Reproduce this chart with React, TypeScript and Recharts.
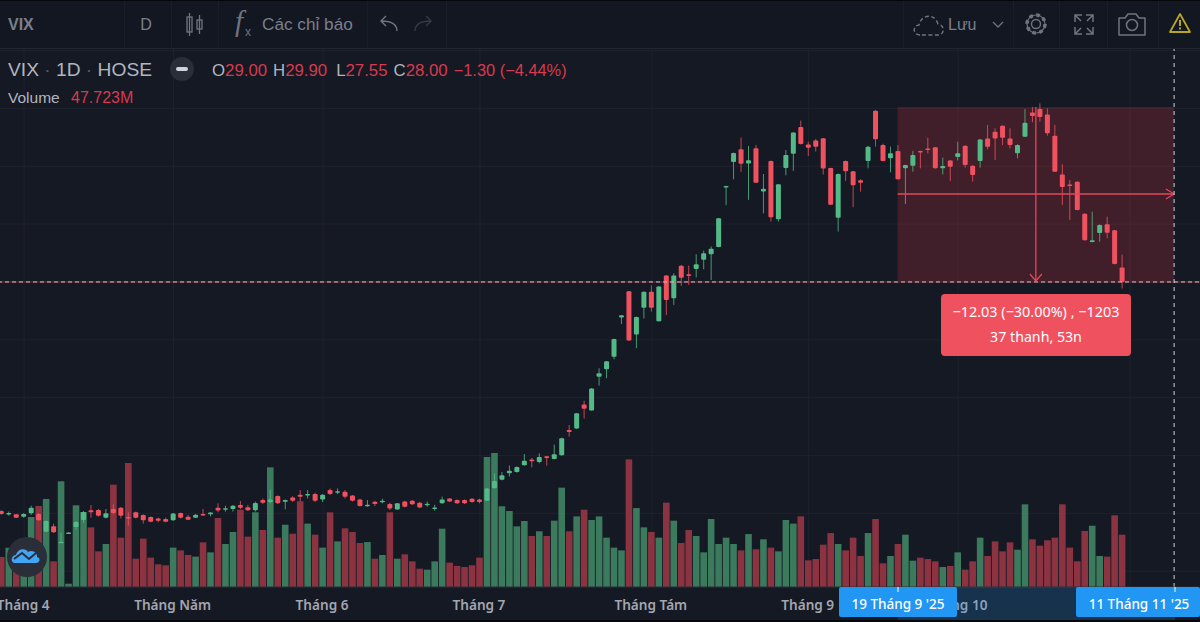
import { Bar, CartesianGrid, Cell, ComposedChart, ReferenceArea, ReferenceLine, XAxis, YAxis } from "recharts";

// daily candles (i = 0 is the leftmost bar)
const opens = [
  12.16, 11.93, 11.93, 11.77, 12.0, 11.95, 10.73, 11.1, 9.97, 10.62,
  11.05, 11.54, 12.21, 12.23, 11.7, 12.3, 12.39, 11.75, 12.07, 11.89,
  11.75, 11.65, 11.61, 11.52, 12.02, 11.77, 11.7, 11.95, 11.93, 12.39,
  12.3, 12.3, 12.58, 12.42, 12.21, 12.92, 12.78, 13.19, 12.8, 13.1,
  13.29, 13.26, 13.33, 12.96, 13.61, 13.45, 13.49, 13.24, 12.96, 12.5,
  12.8, 12.82, 12.64, 12.27, 12.82, 12.87, 12.73, 12.59, 12.34, 12.69,
  13.03, 12.92, 12.92, 13.01, 12.96, 12.87, 13.73, 14.33, 14.77, 14.86,
  15.32, 15.73, 15.55, 15.94, 15.76, 16.01, 17.76, 17.86, 19.52, 19.12,
  21.45, 21.96, 22.83, 25.54, 27.36, 24.36, 26.21, 27.32, 25.28, 28.44,
  26.87, 29.13, 28.53, 28.9, 29.53, 29.92, 30.42, 34.57, 36.3, 37.18,
  36.19, 37.25, 34.25, 36.37, 32.34, 35.89, 36.86, 38.72, 37.5, 37.78,
  37.94, 35.89, 32.45, 36.37, 35.66, 35.03, 36.37, 39.85, 37.47, 36.55,
  37.06, 35.86, 36.04, 37.06, 37.24, 37.31, 35.86, 36.41, 36.64, 37.43,
  36.04, 36.37, 37.93, 38.39, 38.81, 37.93, 36.9, 38.05, 39.73, 39.96,
  39.59, 38.12, 35.44, 34.75, 34.94, 32.72, 30.76, 31.39, 31.99, 31.57, 29.0,
];
const highs = [
  12.21, 12.12, 11.95, 12.02, 12.53, 12.02, 11.52, 11.29, 10.66, 10.7,
  11.47, 12.16, 12.58, 12.3, 12.3, 12.62, 12.44, 12.07, 12.12, 11.93,
  11.79, 11.7, 11.7, 12.02, 12.05, 11.89, 11.93, 12.3, 12.07, 12.69,
  12.53, 12.58, 12.85, 12.58, 12.81, 13.03, 13.65, 13.24, 12.96, 13.19,
  13.61, 13.61, 13.42, 13.33, 13.72, 13.72, 13.61, 13.26, 13.01, 12.92,
  12.87, 13.01, 12.73, 12.71, 12.87, 12.92, 12.78, 12.82, 12.59, 13.15,
  13.06, 12.96, 12.96, 13.06, 13.01, 13.77, 14.77, 14.86, 15.3, 15.25,
  16.1, 15.83, 16.15, 15.97, 16.75, 17.23, 18.11, 18.94, 19.79, 20.67,
  22.03, 22.53, 24.08, 25.7, 27.38, 25.61, 27.34, 27.77, 27.73, 28.47,
  28.6, 29.18, 29.13, 29.92, 30.17, 30.45, 32.43, 34.66, 36.95, 37.99,
  37.41, 37.48, 35.47, 36.4, 34.78, 37.13, 38.35, 39.16, 37.71, 37.89,
  37.96, 35.91, 35.5, 36.4, 35.68, 35.1, 37.41, 39.88, 37.56, 37.36,
  37.47, 36.11, 37.06, 37.08, 37.98, 37.33, 36.6, 36.44, 37.7, 37.45,
  36.07, 37.89, 38.86, 38.63, 38.83, 38.63, 37.52, 39.96, 40.1, 40.35,
  40.01, 38.86, 36.14, 35.05, 34.98, 32.75, 32.86, 31.99, 32.52, 31.6, 29.9,
];
const lows = [
  11.91, 11.84, 11.68, 11.7, 11.89, 11.47, 10.69, 10.64, 9.95, 10.6,
  10.85, 11.35, 11.7, 11.77, 11.65, 11.93, 11.65, 11.15, 11.65, 11.29,
  11.38, 11.38, 11.38, 11.47, 11.65, 11.54, 11.68, 11.84, 11.79, 12.07,
  12.12, 12.12, 12.3, 12.16, 12.12, 12.64, 12.69, 12.64, 12.27, 12.78,
  12.8, 13.03, 12.78, 12.78, 13.26, 13.33, 13.03, 12.82, 12.46, 12.46,
  12.5, 12.69, 12.23, 12.25, 12.41, 12.57, 12.36, 12.46, 12.18, 12.66,
  12.78, 12.64, 12.64, 12.73, 12.69, 12.85, 13.71, 14.28, 14.54, 14.81,
  15.3, 15.18, 15.46, 15.3, 15.73, 15.99, 17.3, 17.83, 18.55, 19.1,
  20.83, 21.34, 22.65, 25.1, 23.92, 23.42, 25.47, 25.95, 25.26, 25.72,
  26.41, 27.73, 27.8, 28.32, 28.88, 28.14, 30.4, 33.31, 35.1, 35.61,
  33.68, 34.85, 32.75, 32.18, 32.18, 35.38, 35.68, 37.5, 36.72, 37.02,
  35.43, 33.33, 31.49, 34.99, 33.17, 34.25, 35.86, 37.36, 36.34, 35.58,
  35.08, 33.39, 35.63, 35.86, 36.9, 35.84, 35.44, 34.98, 36.41, 35.91,
  34.94, 35.91, 37.17, 36.44, 37.47, 37.24, 36.55, 38.03, 39.04, 39.09,
  38.12, 35.61, 33.32, 32.29, 32.95, 30.86, 30.74, 30.79, 31.02, 29.22, 27.55,
];
const closes = [
  11.95, 12.02, 11.7, 11.95, 12.39, 11.52, 11.47, 10.69, 10.04, 10.68,
  11.4, 12.09, 12.07, 11.84, 12.0, 12.02, 11.84, 11.65, 11.7, 11.52,
  11.42, 11.49, 11.42, 11.98, 11.7, 11.56, 11.91, 11.89, 12.05, 12.19,
  12.35, 12.53, 12.39, 12.21, 12.72, 12.73, 12.96, 12.69, 12.92, 12.87,
  13.15, 13.33, 12.87, 13.29, 13.33, 13.52, 13.15, 12.87, 12.5, 12.59,
  12.64, 12.87, 12.34, 12.69, 12.46, 12.62, 12.41, 12.66, 12.41, 12.96,
  12.82, 12.69, 12.69, 12.78, 12.78, 13.72, 14.24, 14.63, 14.95, 15.2,
  15.64, 15.6, 15.9, 15.83, 16.08, 17.19, 17.63, 18.92, 19.24, 20.64,
  21.68, 22.51, 24.06, 25.7, 23.95, 25.58, 27.32, 26.21, 27.68, 26.76,
  28.44, 28.3, 28.42, 29.23, 29.99, 30.29, 32.41, 34.64, 36.92, 36.17,
  36.42, 34.87, 34.44, 32.48, 34.76, 36.79, 38.33, 37.55, 37.29, 37.36,
  35.84, 33.35, 35.47, 35.66, 34.69, 34.87, 37.36, 37.87, 36.37, 36.9,
  35.1, 36.09, 36.78, 36.97, 37.13, 35.86, 36.02, 35.97, 36.9, 36.09,
  35.4, 37.86, 37.36, 37.93, 37.98, 37.47, 37.47, 39.02, 39.48, 39.41,
  38.28, 35.63, 34.57, 34.71, 32.98, 30.88, 30.88, 31.94, 31.41, 29.24, 28.0,
];
// volume in millions
const volumes = [
  27.4, 35.9, 29.0, 34.0, 63.8, 73.9, 80.3, 23.4, 96.4, 3.0,
  74.5, 68.4, 54.4, 32.5, 39.2, 93.3, 45.0, 113.1, 25.8, 44.1,
  26.8, 20.7, 19.8, 35.9, 33.4, 29.2, 27.7, 40.7, 31.6, 62.9,
  39.2, 50.2, 70.5, 45.9, 68.1, 52.0, 109.1, 45.0, 56.8, 48.6,
  78.1, 57.8, 47.7, 35.9, 68.1, 41.6, 53.5, 50.2, 40.1, 41.0,
  25.8, 29.2, 68.1, 25.8, 29.8, 23.4, 16.7, 15.8, 23.4, 53.2,
  22.2, 19.2, 18.2, 19.8, 26.8, 118.6, 122.2, 73.6, 69.3, 55.3,
  60.2, 46.5, 50.8, 46.5, 60.5, 90.6, 50.8, 64.4, 70.5, 61.1,
  64.4, 45.0, 35.9, 33.4, 116.4, 72.0, 54.4, 50.2, 45.0, 76.9,
  60.5, 40.1, 52.0, 46.5, 31.6, 62.0, 39.2, 45.0, 39.2, 33.4,
  48.3, 34.4, 43.5, 35.9, 32.5, 61.1, 57.8, 64.4, 24.3, 25.5,
  38.6, 49.2, 39.2, 33.4, 45.0, 28.3, 49.2, 62.0, 21.6, 28.3,
  39.2, 47.7, 24.0, 26.8, 25.5, 23.4, 18.2, 19.2, 31.6, 15.8,
  23.4, 45.0, 28.3, 41.6, 32.5, 40.7, 34.0, 75.4, 43.5, 37.7,
  42.6, 45.0, 75.4, 35.9, 23.4, 51.1, 55.9, 28.3, 27.7, 65.4, 47.7,
];

// the November tick keeps its grid line, its label sits behind the blue date label
const monthTicks = [3, 23, 43, 64, 87, 108, 128, 151];
const monthLabels = ["Tháng 4", "Tháng Năm", "Tháng 6", "Tháng 7", "Tháng Tám", "Tháng 9", "Tháng 10", ""];
const priceTicks = [8, 12, 16, 20, 24, 28, 32, 36, 40, 44];

// date range tool: 37 bars starting at 19 Sep
const measureStart = 120;
const measureEnd = 157;
const measureFrom = 40.1;
const measureTo = 28.07;
const crosshairPrice = 28.0;

const EMPTY_BARS = 10;
const VOL_BAR = 6.6;
const UP = "#53b987";
const DOWN = "#f0515f";
const VOL_UP = "#3b7a5d";
const VOL_DOWN = "#8c3342";
const BG = "#151924";
const GRID = "#1e222d";
const MUTED = "#7b7f8b";
const TEXT = "#b2b5be";
const RED_TEXT = "#d8394d";
const SANS = "'Liberation Sans', Arial, sans-serif";
const AXIS_FONT = "'Noto Sans', sans-serif";

const chartData = Array.from({ length: opens.length + EMPTY_BARS }, (_, idx) =>
  idx < opens.length
    ? { idx, open: opens[idx], close: closes[idx], high: highs[idx], low: lows[idx], range: [lows[idx], highs[idx]], volume: volumes[idx] }
    : { idx },
);

function Candle(props: any) {
  const { x, y, width, height, payload } = props;
  if (!payload || payload.high === undefined) return null;
  const perUnit = height / (payload.high - payload.low);
  const topPrice = Math.max(payload.open, payload.close);
  const bottomPrice = Math.min(payload.open, payload.close);
  const bodyTop = y + (payload.high - topPrice) * perUnit;
  const bodyHeight = Math.max((topPrice - bottomPrice) * perUnit, 1.5);
  const cx = x + width / 2;
  const color = payload.close >= payload.open ? UP : DOWN;
  return (
    <g>
      <line x1={cx} x2={cx} y1={y} y2={y + height} stroke={color} strokeWidth={1} strokeOpacity={0.8} />
      <rect x={cx - 2.5} y={bodyTop} width={5} height={bodyHeight} rx={1} fill={color} />
    </g>
  );
}

const measureMidX = (measureStart + measureEnd) / 2;
const measureMidY = (measureFrom + measureTo) / 2;

// horizontal and vertical arrows of the date range tool, in data units
const measureSegments = [
  [{ x: measureStart, y: measureMidY }, { x: measureEnd, y: measureMidY }],
  [{ x: measureEnd - 1.1, y: measureMidY + 0.35 }, { x: measureEnd, y: measureMidY }],
  [{ x: measureEnd - 1.1, y: measureMidY - 0.35 }, { x: measureEnd, y: measureMidY }],
  [{ x: measureMidX, y: measureFrom }, { x: measureMidX, y: measureTo }],
  [{ x: measureMidX - 0.8, y: measureTo + 0.48 }, { x: measureMidX, y: measureTo }],
  [{ x: measureMidX + 0.8, y: measureTo + 0.48 }, { x: measureMidX, y: measureTo }],
];

function Toolbar() {
  const stroke = "#6f7480";
  return (
    <svg width={1200} height={622} style={{ position: "absolute", left: 0, top: 0 }}>
      <rect x={0} y={0} width={1200} height={48} fill="#131722" />
      <rect x={0} y={0} width={1200} height={1} fill="#05070b" />
      <rect x={0} y={48} width={1200} height={1} fill="#222631" />
      {[124, 171, 218, 367, 446, 903, 1013, 1059, 1107, 1158].map((x) => (
        <rect key={x} x={x} y={1} width={1} height={47} fill="#1a1e29" />
      ))}
      <text x={8} y={30} fontFamily={SANS} fontSize={16} fontWeight={700} fill={MUTED}>VIX</text>
      <text x={146} y={30} textAnchor="middle" fontFamily={SANS} fontSize={16} fill={MUTED}>D</text>
      <g fill="none" stroke={stroke} strokeWidth={1.3}>
        <rect x={187} y={17} width={5} height={15} />
        <line x1={189.5} x2={189.5} y1={13} y2={36} />
        <rect x={197} y={20} width={5} height={9} />
        <line x1={199.5} x2={199.5} y1={15} y2={34} />
      </g>
      <text x={235} y={31} fontFamily="'Liberation Serif', serif" fontStyle="italic" fontSize={29} fill={stroke}>f</text>
      <text x={245} y={36} fontFamily={SANS} fontSize={12} fill={stroke}>x</text>
      <text x={262} y={30} fontFamily={SANS} fontSize={17.2} fill={MUTED}>Các chỉ báo</text>
      <path d="M397 31 C397 24 392 21 381 21 M386 16 L381 21 L386 26" fill="none" stroke={stroke} strokeWidth={1.4} />
      <path d="M415 31 C415 24 420 21 431 21 M426 16 L431 21 L426 26" fill="none" stroke="#363a45" strokeWidth={1.4} />
      <path
        d="M920 35 C913 35 912 26 919 25 C921 15 934 12 938 24 C945 25 945 35 938 35 Z"
        fill="none"
        stroke={stroke}
        strokeWidth={1.4}
        strokeDasharray="4 2.5"
      />
      <text x={948} y={30} fontFamily={SANS} fontSize={16} fill={MUTED}>Lưu</text>
      <path d="M993 22 L998 27 L1003 22" fill="none" stroke={stroke} strokeWidth={1.3} />
      <circle cx={1036} cy={24} r={4.5} fill="none" stroke={stroke} strokeWidth={1.4} />
      <circle cx={1036} cy={24} r={9} fill="none" stroke={stroke} strokeWidth={3.5} strokeDasharray="3.6 3.47" />
      <circle cx={1036} cy={24} r={9} fill="none" stroke={stroke} strokeWidth={1.2} />
      <g fill="none" stroke={stroke} strokeWidth={1.5}>
        <path d="M1075 22 V15 H1082 M1075 15 L1081 21" />
        <path d="M1093 22 V15 H1086 M1093 15 L1087 21" />
        <path d="M1075 27 V34 H1082 M1075 34 L1081 28" />
        <path d="M1093 27 V34 H1086 M1093 34 L1087 28" />
      </g>
      <path
        d="M1119 18 H1125 L1128 14 H1136 L1139 18 H1145 V35 H1119 Z"
        fill="none"
        stroke={stroke}
        strokeWidth={1.5}
        strokeLinejoin="round"
      />
      <circle cx={1132} cy={25} r={5.5} fill="none" stroke={stroke} strokeWidth={1.5} />
      <path d="M1180 14 L1190 32 H1170 Z" fill="none" stroke="#b7a61f" strokeWidth={1.8} strokeLinejoin="round" />
      <rect x={1179} y={20} width={2} height={6} fill="#b7a61f" />
      <rect x={1179} y={27.5} width={2} height={2} fill="#b7a61f" />

      <text x={8} y={76} fontFamily={SANS} fontSize={19.2} fill={TEXT}>
        VIX<tspan fill="#565a66"> · </tspan>1D<tspan fill="#565a66"> · </tspan>HOSE
      </text>
      <circle cx={182} cy={69} r={12} fill="#2a2e39" />
      <rect x={176} y={67} width={12} height={4} rx={2} fill="#d1d4dc" />
      <text x={212} y={76} fontFamily={SANS} fontSize={16.8} fill={TEXT}>
        O<tspan fill={RED_TEXT}>29.00</tspan>
        <tspan dx={6}>H</tspan><tspan fill={RED_TEXT}>29.90</tspan>
        <tspan dx={9}>L</tspan><tspan fill={RED_TEXT}>27.55</tspan>
        <tspan dx={6}>C</tspan><tspan fill={RED_TEXT}>28.00</tspan>
        <tspan dx={6} fill={RED_TEXT} fontSize={16.4}>−1.30 (−4.44%)</tspan>
      </text>
      <text x={8} y={103} fontFamily={SANS} fontSize={15.5} fill={TEXT}>Volume</text>
      <text x={71} y={103} fontFamily={SANS} fontSize={16} fill={RED_TEXT}>47.723M</text>

      <rect x={898} y={587} width={277} height={33} fill="#2196f3" fillOpacity={0.2} />

      <circle cx={27} cy={557} r={20} fill="#2a2e39" />
      <path
        d="M15 563 C10 563 11 555 16 555 C18 548 26 548 28 552 C32 549 38 553 37 557 C41 558 40 563 36 563 Z"
        fill="#42a5f5"
      />
      <path d="M14 559 L22 553 L29 559 L36 553" fill="none" stroke="#2a2e39" strokeWidth={2} />

      <rect x={941} y={294} width={190} height={62} rx={4} fill={DOWN} />
      <text x={1036} y={317} textAnchor="middle" fontFamily={AXIS_FONT} fontSize={14.4} fill="#fff">−12.03 (−30.00%) , −1203</text>
      <text x={1036} y={342} textAnchor="middle" fontFamily={AXIS_FONT} fontSize={14.2} fill="#fff">37 thanh, 53n</text>

      <rect x={839} y={587} width={118} height={30} rx={2} fill="#2196f3" />
      <rect x={1076} y={587} width={124} height={30} rx={2} fill="#2196f3" />
      <text x={898} y={609} textAnchor="middle" fontFamily={AXIS_FONT} fontSize={13.5} fontWeight={500} fill="#fff">19 Tháng 9 '25</text>
      <text x={1139} y={609} textAnchor="middle" fontFamily={AXIS_FONT} fontSize={13.5} fontWeight={500} fill="#fff">11 Tháng 11 '25</text>
      <rect x={897.5} y={587} width={1} height={5} fill="#fff" />
      <rect x={1174.5} y={587} width={1} height={5} fill="#fff" />
      <rect x={0} y={620} width={1200} height={2} fill="#05070b" />
    </svg>
  );
}

export default function App() {
  return (
    <div style={{ position: "absolute", left: 0, top: 0, width: 1200, height: 622, overflow: "hidden", background: BG }}>
      <div style={{ position: "absolute", left: -2, top: 0 }}>
        <ComposedChart width={1203} height={622} data={chartData} margin={{ top: 0, right: 0, bottom: 0, left: 0 }} barGap={-VOL_BAR}>
          <CartesianGrid xAxisId="band" yAxisId="price" stroke={GRID} strokeWidth={1} />
          <XAxis
            xAxisId="band"
            dataKey="idx"
            type="category"
            height={35}
            ticks={monthTicks}
            interval={0}
            axisLine={{ stroke: "#2a2e39" }}
            tickLine={false}
            tickMargin={7}
            tickFormatter={(v: number) => monthLabels[monthTicks.indexOf(v)]}
            tick={{ fill: "#a3a6af", fontSize: 13.6, fontWeight: 600, fontFamily: AXIS_FONT, dx: -1 }}
          />
          <XAxis xAxisId="num" dataKey="idx" type="number" domain={[-0.4, 160.6]} hide />
          <YAxis yAxisId="price" domain={[6.905, 47.502]} ticks={priceTicks} allowDataOverflow hide />
          <YAxis yAxisId="vol" domain={[0, 535.3]} allowDataOverflow hide />
          <Bar xAxisId="band" yAxisId="vol" dataKey="volume" barSize={VOL_BAR} isAnimationActive={false}>
            {chartData.map((d) => (
              <Cell key={d.idx} fill={(d.close ?? 0) >= (d.open ?? 0) ? VOL_UP : VOL_DOWN} />
            ))}
          </Bar>
          <Bar xAxisId="band" yAxisId="price" dataKey="range" barSize={VOL_BAR} shape={Candle} isAnimationActive={false} />
          <ReferenceArea
            xAxisId="num"
            yAxisId="price"
            x1={measureStart}
            x2={measureEnd}
            y1={measureTo}
            y2={measureFrom}
            fill="#f23645"
            fillOpacity={0.2}
            stroke="none"
            ifOverflow="visible"
          />
          {measureSegments.map((segment, i) => (
            <ReferenceLine key={i} xAxisId="num" yAxisId="price" segment={segment} stroke="#e0485a" strokeWidth={1.3} ifOverflow="visible" />
          ))}
          <ReferenceLine xAxisId="num" yAxisId="price" y={crosshairPrice} stroke="#f23645" strokeOpacity={0.45} />
          <ReferenceLine xAxisId="num" yAxisId="price" y={crosshairPrice} stroke="#d9c3c9" strokeDasharray="4 3" />
          <ReferenceLine xAxisId="num" yAxisId="price" x={measureEnd} stroke="#cfd2da" strokeDasharray="4 4" />
        </ComposedChart>
      </div>
      <Toolbar />
    </div>
  );
}
